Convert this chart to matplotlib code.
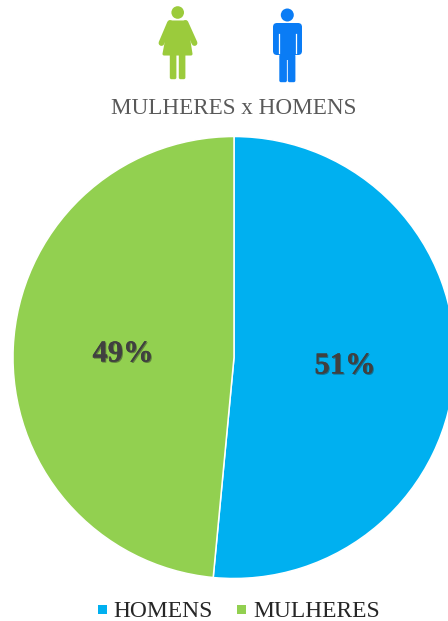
import matplotlib
matplotlib.use("Agg")
import matplotlib.pyplot as plt
import matplotlib.patheffects as pe
from matplotlib.patches import Circle, Polygon, FancyBboxPatch, Rectangle

categories = ["HOMENS", "MULHERES"]
shares = [51.5, 48.5]
labels = ["51%", "49%"]
title = "MULHERES x HOMENS"
colors = ["#00B0F0", "#92D050"]

plt.rcParams['font.family'] = ['Liberation Serif', 'DejaVu Serif']
fig = plt.figure(figsize=(4.48, 6.21), dpi=100)
ax = fig.add_axes([0, 0, 1, 1])
ax.axis('off')

wedges, _ = ax.pie(shares, colors=colors, startangle=270, counterclock=True,
                   center=(234, 357.5), radius=221,
                   wedgeprops=dict(edgecolor='white', linewidth=1.1))
ax.set_xlim(0, 448)
ax.set_ylim(621, 0)
ax.set_aspect('auto')

shadow = [pe.withSimplePatchShadow(offset=(0.8, -0.8), shadow_rgbFace='#222222', alpha=0.45), pe.Normal()]
ax.text(345, 366, labels[0], ha='center', va='center', fontsize=22, fontweight='bold',
        color='#404040', path_effects=shadow)
ax.text(123, 354, labels[1], ha='center', va='center', fontsize=22, fontweight='bold',
        color='#404040', path_effects=shadow)

ax.text(234, 108.5, title, ha='center', va='center', fontsize=16.7, color='#595959')

# legend
ax.add_patch(Rectangle((98, 605), 9, 9, fc=colors[0], ec='none'))
ax.text(113, 611.5, categories[0], ha='left', va='center', fontsize=16.9, color='#262626')
ax.add_patch(Rectangle((237, 605), 9, 9, fc=colors[1], ec='none'))
ax.text(253, 611.5, categories[1], ha='left', va='center', fontsize=16.9, color='#262626')

# woman icon
g = '#9BCB3C'
ax.add_patch(Circle((177.7, 12.5), 6.3, fc=g, ec='none'))
ax.add_patch(Polygon([(170, 22), (186, 22), (191, 54), (164, 54)], closed=True, fc=g, ec=g, lw=2.2, joinstyle='round'))
ax.plot([170, 161.5], [23, 43], color=g, lw=4.2, solid_capstyle='round')
ax.plot([185.5, 194.5], [23, 43], color=g, lw=4.2, solid_capstyle='round')
for x in (171.5, 180.5):
    ax.add_patch(FancyBboxPatch((x, 55), 3.2, 22.5, boxstyle='round,pad=1.7', fc=g, ec='none'))

# man icon
b = '#0A7CF5'
ax.add_patch(Circle((287.3, 15), 6.5, fc=b, ec='none'))
ax.add_patch(FancyBboxPatch((277, 27), 21, 24, boxstyle='round,pad=4', fc=b, ec='none'))
ax.add_patch(Rectangle((279.5, 40), 15.5, 20, fc=b, ec='none'))
for x in (281, 289.5):
    ax.add_patch(FancyBboxPatch((x, 56), 4.2, 24.5, boxstyle='round,pad=1.7', fc=b, ec='none'))
for x in (278.7, 295.7):
    ax.plot([x, x], [34, 53], color='white', lw=0.9)

fig.savefig('out.png', dpi=100)
